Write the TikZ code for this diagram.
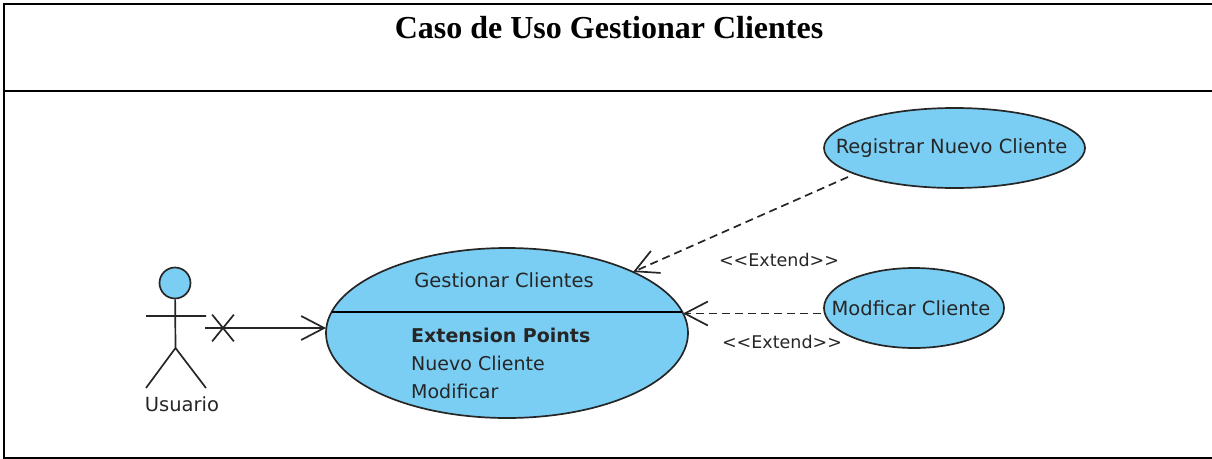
\documentclass[tikz,border=0pt]{standalone}
\usepackage{fontspec}
\setmainfont{DejaVu Sans}
\newfontfamily\titlefont{Liberation Serif}
\usetikzlibrary{arrows.meta,positioning,shapes.geometric,shapes.misc}
\definecolor{usecase}{HTML}{7ACEF4}
\definecolor{linegray}{HTML}{262626}
\tikzset{
  cellline/.style={draw=black,line width=2pt},
  usecase/.style={ellipse,draw=linegray,line width=1.7pt,fill=usecase,inner sep=0pt},
  stickline/.style={draw=linegray,line width=1.7pt},
  openhead/.style={-{Straight Barb[length=23pt,width=24pt,line width=1.7pt]}},
  extendline/.style={openhead,draw=linegray,line width=1.7pt,dash pattern=on 8pt off 5pt},
  lbl/.style={font=\fontsize{19.5}{21}\selectfont,text=black!85,inner sep=0pt},
  smalllbl/.style={font=\fontsize{17.5}{19}\selectfont,text=black!85,inner sep=0pt},
  listlbl/.style={font=\fontsize{19}{21}\selectfont,text=black!85,inner sep=0pt,anchor=west}
}
\begin{document}
\begin{tikzpicture}[x=1pt,y=-1pt,node distance=1pt,on grid]
   \useasboundingbox (0,0) rectangle (1212,458);
   \coordinate (tl) at (4,3.5);
   \coordinate (tr) at (1212,3.5);
   \coordinate (ml) at (4,91);
   \coordinate (mr) at (1212,91);
   \coordinate (bl) at (4,457.5);
   \coordinate (br) at (1212,457.5);
   \draw[cellline] (tr) -- (tl) -- (bl) -- (br) (ml) -- (mr);
   \node[font=\titlefont\bfseries\fontsize{32}{34}\selectfont,inner sep=0pt] (title) at (609,28) {Caso de Uso Gestionar Clientes};

   \node[usecase,minimum width=362pt,minimum height=170pt] (gestionar) at (507,333) {};
   \node[usecase,minimum width=261pt,minimum height=80pt] (registrar) at (954.5,148) {};
   \node[usecase,minimum width=180pt,minimum height=80pt] (modificar) at (914,308) {};
   \node[lbl] (registrartxt) at (951.5,148) {Registrar Nuevo Cliente};
   \node[lbl] (modificartxt) at (911,308) {Modficar Cliente};
   \node[lbl] (gestionartxt) at (504,280) {Gestionar Clientes};
   \node[listlbl] (extpoints) at (411,335) {\textbf{Extension Points}};
   \node[listlbl] (nuevo) at (411,363) {Nuevo Cliente};
   \node[listlbl] (modif) at (411,391) {Modificar};
   \coordinate (divL) at (331.6,312);
   \coordinate (divR) at (682.4,312);
   \draw[black,line width=1.7pt] (divL) -- (divR);

   % actor
   \node[circle,draw=linegray,line width=1.7pt,fill=usecase,minimum size=31pt,inner sep=0pt] (head) at (175,283) {};
   \coordinate (hip) at (175.5,348);
   \coordinate (armL) at (146,316);
   \coordinate (armR) at (206,316);
   \coordinate (legL) at (146,388);
   \coordinate (legR) at (206,388);
   \draw[stickline] (head) -- (hip) (armL) -- (armR) (legL) -- (hip) -- (legR);
   \node[lbl] (usuario) at (182,404) {Usuario};

   \coordinate (assocstart) at (205,328);
   \coordinate (assocend) at (326,328);
   \node[cross out,draw=linegray,line width=1.7pt,minimum width=20pt,minimum height=25pt,inner sep=0pt] (nonav) at (223,328) {};
   \draw[openhead,linegray,line width=1.7pt] (assocstart) -- (assocend);

   \coordinate (regstart) at (848,177);
   \coordinate (regend) at (633,272);
   \coordinate (modstart) at (821,313.5);
   \coordinate (modend) at (683,313.5);
   \draw[extendline] (regstart) -- (regend);
   \draw[extendline] (modstart) -- (modend);
   \node[smalllbl] (ext1) at (779,260) {<{}<Extend>{}>};
   \node[smalllbl] (ext2) at (782,342) {<{}<Extend>{}>};
\end{tikzpicture}
\end{document}
